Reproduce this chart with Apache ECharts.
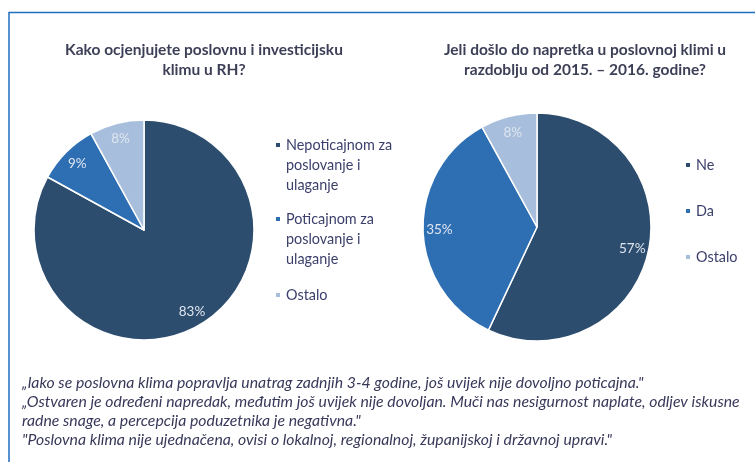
<!DOCTYPE html>
<html>
<head>
<meta charset="utf-8">
<script src="https://cdn.jsdelivr.net/npm/echarts@6/dist/echarts.min.js"></script>
<style>
    html, body { margin: 0; padding: 0; background: #fff; }
    #chart { width: 755px; height: 462px; }
</style>
</head>
<body>
<div id="chart"></div>
<script>
// left pie: how is the climate rated
const leftNames = ['Nepoticajnom za\nposlovanje i\nulaganje', 'Poticajnom za\nposlovanje i\nulaganje', 'Ostalo']
const leftValues = [83, 9, 8]
// right pie: was there progress 2015-2016
const rightNames = ['Ne', 'Da', 'Ostalo']
const rightValues = [57, 35, 8]

const sliceColors = ['#2c4d6e', '#2e6fb4', '#a7bfdc']

const leftTitle = 'Kako ocjenjujete poslovnu i investicijsku\nklimu u RH?'
const rightTitle = 'Jeli došlo do napretka u poslovnoj klimi u\nrazdoblju od 2015. – 2016. godine?'
const quotes = [
    '„Iako se poslovna klima popravlja unatrag zadnjih 3-4 godine, još uvijek nije dovoljno poticajna."',
    '„Ostvaren je određeni napredak, međutim još uvijek nije dovoljan. Muči nas nesigurnost naplate, odljev iskusne',
    'radne snage, a percepcija poduzetnika je negativna."',
    '"Poslovna klima nije ujednačena, ovisi o lokalnoj, regionalnoj, županijskoj i državnoj upravi."',
]

const FONT = 'Lato, "Open Sans", sans-serif'

const toData = (names, values) =>
    names.map((n, i) => ({ name: n, value: values[i], itemStyle: { color: sliceColors[i] } }))

const pieSeries = (names, values, center, r) => [
    {
        type: 'pie',
        center: center,
        radius: [0, r],
        startAngle: 90,
        clockwise: true,
        data: toData(names, values),
        label: { show: false },
        labelLine: { show: false },
        itemStyle: { borderColor: '#fff', borderWidth: 1.5 },
        emphasis: { disabled: true },
    },
    // transparent ring only used to push the % labels outward
    {
        type: 'pie',
        center: center,
        radius: [r * 0.66, r],
        startAngle: 90,
        clockwise: true,
        silent: true,
        legendHoverLink: false,
        data: names.map((n, i) => ({ name: n + ' ', value: values[i] })),
        itemStyle: { color: 'rgba(0,0,0,0)' },
        label: {
            show: true,
            position: 'inside',
            formatter: '{c}%',
            color: '#dfe5ef',
            fontFamily: FONT,
            fontSize: 13.5,
        },
        labelLine: { show: false },
        emphasis: { disabled: true },
    },
]

const legendText = { color: '#3b3f6b', fontFamily: FONT, fontSize: 14.4, lineHeight: 20 }
// two blank lines on top so the marker sits beside the first text line
const padTop = name => '\n\n' + name

const chart = echarts.init(document.getElementById('chart'))
chart.setOption({
    backgroundColor: '#fff',
    animation: false,
    title: [
        {
            text: leftTitle,
            left: 204,
            top: 40,
            padding: 0,
            textAlign: 'center',
            textStyle: { color: '#3d3f57', fontFamily: FONT, fontSize: 15.5, fontWeight: 'bold', lineHeight: 20 },
        },
        {
            text: rightTitle,
            left: 585,
            top: 40,
            padding: 0,
            textAlign: 'center',
            textStyle: { color: '#3d3f57', fontFamily: FONT, fontSize: 15.5, fontWeight: 'bold', lineHeight: 20 },
        },
        {
            text: quotes.join('\n'),
            left: 22,
            top: 373,
            padding: 0,
            textStyle: { color: '#38395a', fontFamily: FONT, fontSize: 15.8, fontStyle: 'italic', fontWeight: 'normal', lineHeight: 19 },
        },
    ],
    legend: [
        {
            data: [leftNames[0]],
            formatter: padTop,
            left: 274, top: 95, padding: 0,
            icon: 'rect', itemWidth: 6, itemHeight: 6,
            textStyle: legendText,
        },
        {
            data: [leftNames[1]],
            formatter: padTop,
            left: 274, top: 169, padding: 0,
            icon: 'rect', itemWidth: 6, itemHeight: 6,
            textStyle: legendText,
        },
        {
            data: [leftNames[2]],
            left: 274, top: 285, padding: 0,
            icon: 'rect', itemWidth: 6, itemHeight: 6,
            textStyle: legendText,
        },
        {
            data: rightNames,
            orient: 'vertical',
            left: 684, top: 155, padding: 0,
            icon: 'rect', itemWidth: 6, itemHeight: 6, itemGap: 26,
            textStyle: legendText,
        },
    ],
    graphic: [
        {
            type: 'polyline',
            shape: { points: [[9, 462], [9, 12.5], [755, 12.5]] },
            style: { stroke: '#1f6fc1', lineWidth: 1.5, fill: null },
            silent: true,
        },
    ],
    series: [
        ...pieSeries(leftNames, leftValues, [144, 230], 110),
        ...pieSeries(rightNames, rightValues, [537, 227], 114),
    ],
})
</script>
</body>
</html>
